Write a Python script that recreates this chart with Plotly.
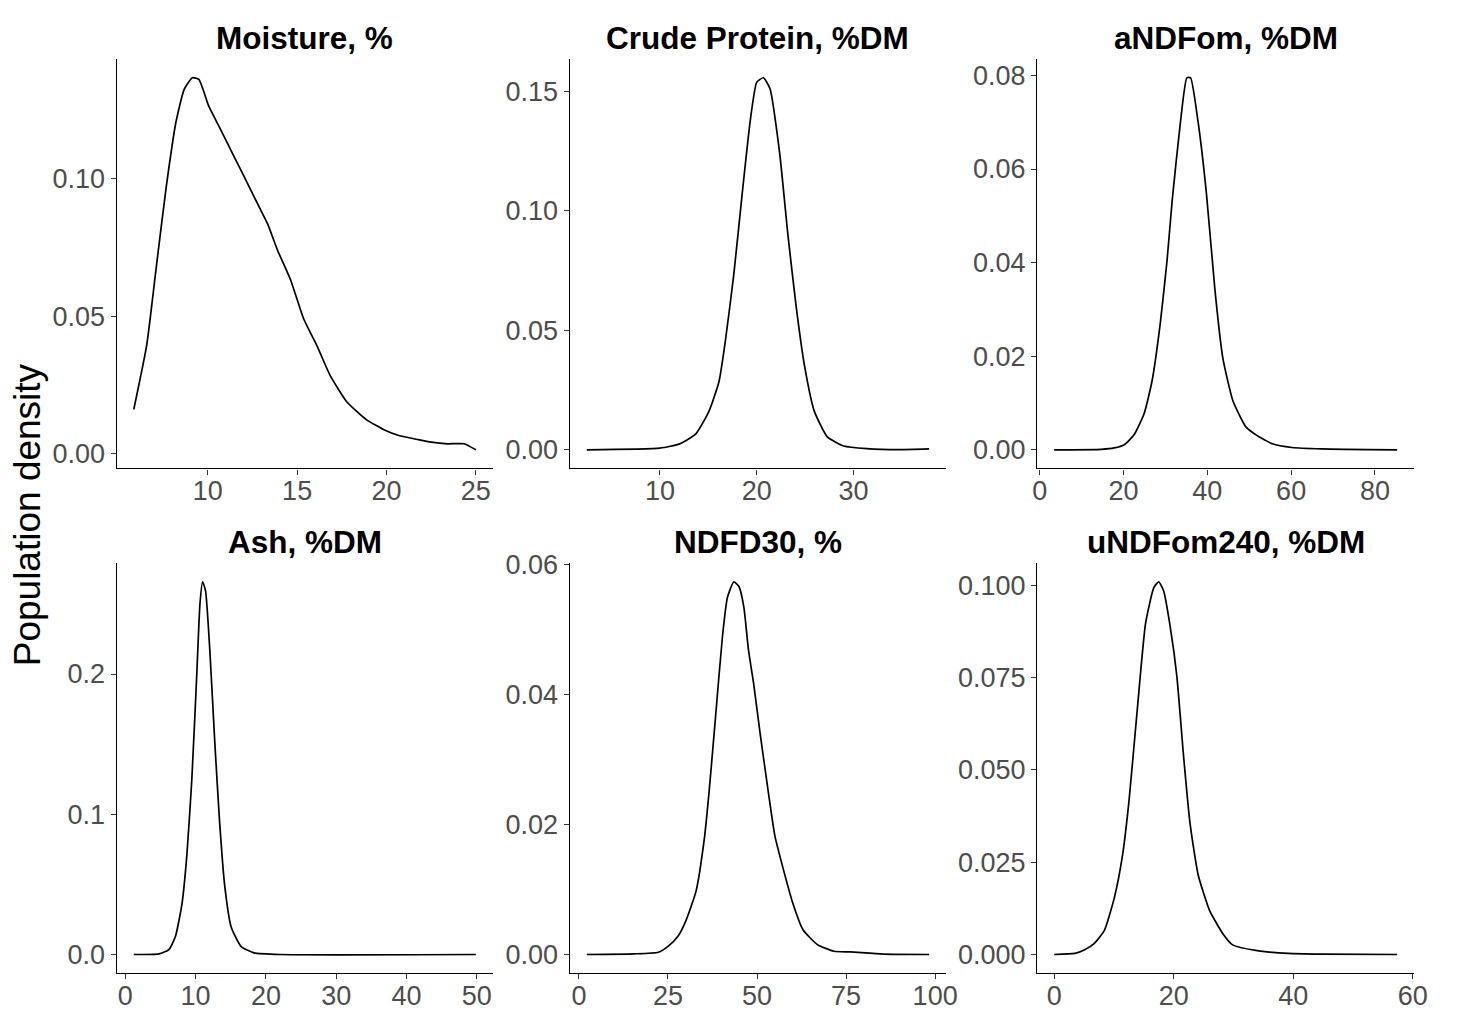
import plotly.graph_objects as go

# ---------------- data ----------------
titles = ["Moisture, %", "Crude Protein, %DM", "aNDFom, %DM",
          "Ash, %DM", "NDFD30, %", "uNDFom240, %DM"]

moisture_x = [5.86, 6.58, 7.12, 7.67, 8.22, 8.68, 9.14, 9.5, 10.05, 10.6, 11.52, 12.25, 12.89,
              13.35, 13.9, 14.63, 15.37, 16.1, 16.83, 17.75, 18.85, 19.95, 20.68, 21.78,
              22.5, 23.42, 24.34, 25.0]
moisture_y = [0.0161, 0.0394, 0.068, 0.0968, 0.1207, 0.1326, 0.1368, 0.1362, 0.1266, 0.1195,
              0.1075, 0.098, 0.0896, 0.0836, 0.0741, 0.0633, 0.049, 0.0394, 0.0287, 0.0191,
              0.0125, 0.0084, 0.0066, 0.0051, 0.0042, 0.0036, 0.0036, 0.0014]

protein_x = [2.44, 10.0, 12.03, 13.73, 15.08, 16.1, 16.78, 17.63, 18.47, 19.32, 20.0, 20.68,
             21.36, 22.37, 23.22, 24.07, 24.92, 25.93, 27.29, 28.98, 31.36, 34.75, 37.8]
protein_y = [0.0, 0.0007, 0.0025, 0.0068, 0.0163, 0.0286, 0.0463, 0.0735, 0.1062, 0.1375,
             0.1538, 0.1556, 0.1511, 0.1239, 0.0898, 0.0599, 0.0354, 0.0163, 0.0054, 0.0016,
             0.0005, 0.0001, 0.0004]

andfom_x = [3.45, 14.7, 17.8, 20.2, 22.5, 24.9, 26.8, 28.8, 30.4, 31.6, 33.5, 35.1, 36.0,
            37.8, 39.8, 41.8, 43.7, 46.1, 49.2, 51.6, 55.5, 60.2, 67.3, 85.3]
andfom_y = [0.0, 0.0001, 0.0004, 0.0011, 0.0032, 0.0077, 0.0147, 0.0273, 0.0406, 0.0532,
            0.0694, 0.0795, 0.0795, 0.07, 0.0546, 0.0343, 0.0196, 0.0105, 0.0049, 0.0032,
            0.0013, 0.0005, 0.0002, 0.0]

ash_x = [1.21, 4.8, 6.2, 7.13, 8.06, 8.76, 9.46, 10.16, 10.62, 11.0, 11.42, 12.02, 12.72,
         13.42, 14.12, 15.05, 16.45, 18.3, 22.0, 49.86]
ash_y = [0.0, 0.0005, 0.0035, 0.0128, 0.036, 0.0709, 0.1244, 0.1988, 0.25, 0.2658, 0.2593,
         0.2174, 0.1523, 0.0942, 0.05, 0.0198, 0.0058, 0.0012, 0.0, 0.0]

ndfd_x = [2.21, 15.4, 22.3, 25.1, 27.8, 30.1, 32.9, 35.2, 36.6, 38.4, 40.3, 41.7, 43.5, 44.9,
          46.3, 47.6, 49.0, 50.9, 53.2, 55.0, 57.3, 60.1, 62.9, 67.0, 71.6, 76.2, 85.4, 98.3]
ndfd_y = [0.0, 0.0001, 0.00035, 0.0013, 0.0028, 0.0053, 0.0098, 0.0178, 0.0254, 0.0369,
          0.049, 0.055, 0.0574, 0.0567, 0.0535, 0.0469, 0.0419, 0.0339, 0.0249, 0.0183,
          0.0133, 0.0078, 0.0038, 0.0015, 0.0005, 0.0004, 0.00005, 0.0]

undf_x = [0.0, 3.47, 5.1, 6.77, 8.42, 10.07, 11.44, 12.54, 13.92, 15.29, 16.67, 17.49, 18.32,
          19.42, 20.52, 21.62, 22.72, 24.09, 26.02, 28.2, 29.87, 33.7, 39.2, 44.7, 57.4]
undf_y = [0.0, 0.0003, 0.0013, 0.0031, 0.0066, 0.0154, 0.0269, 0.0419, 0.0666, 0.0896,
          0.0993, 0.1009, 0.0984, 0.0887, 0.0755, 0.0543, 0.0357, 0.0216, 0.0119, 0.0057,
          0.0026, 0.0011, 0.0003, 0.0001, 0.0]

x_ticks = [[10, 15, 20, 25], [10, 20, 30], [0, 20, 40, 60, 80],
           [0, 10, 20, 30, 40, 50], [0, 25, 50, 75, 100], [0, 20, 40, 60]]
y_ticks = [[0.0, 0.05, 0.10], [0.0, 0.05, 0.10, 0.15], [0.0, 0.02, 0.04, 0.06, 0.08],
           [0.0, 0.1, 0.2], [0.0, 0.02, 0.04, 0.06], [0.0, 0.025, 0.05, 0.075, 0.1]]
y_formats = [".2f", ".2f", ".2f", ".1f", ".2f", ".3f"]
y_label = "Population density"

series = [(moisture_x, moisture_y), (protein_x, protein_y), (andfom_x, andfom_y),
          (ash_x, ash_y), (ndfd_x, ndfd_y), (undf_x, undf_y)]

# ---------------- layout ----------------
# the page body keeps the browser's default 8px margin, so the figure is 16px smaller
OFF = 8
W, H = 1458 - 2 * OFF, 1019 - 2 * OFF
col_px = [(113, 494), (571.7, 953), (1045, 1427)]
row_px = [(47, 465), (561.7, 980.5)]


def px_x(p):
    return (p - OFF) / W


def px_y(p):
    return 1 - (p - OFF) / H


FONT = "Liberation Sans, Arial, sans-serif"
fig = go.Figure()
layout = dict(
    width=W, height=H, margin=dict(l=0, r=0, t=0, b=0), autosize=False,
    paper_bgcolor="white", plot_bgcolor="white", showlegend=False,
    font=dict(family=FONT, color="#4D4D4D"),
)
annotations = []

for i, (xs, ys) in enumerate(series):
    r, c = divmod(i, 3)
    n = "" if i == 0 else str(i + 1)
    xa, ya = "x" + n, "y" + n
    fig.add_trace(go.Scatter(x=xs, y=ys, mode="lines", xaxis=xa, yaxis=ya,
                             line=dict(color="black", width=1.7, shape="spline", smoothing=0.5),
                             hoverinfo="x+y"))
    x0, x1 = col_px[c]
    y0, y1 = row_px[r]
    xmin, xmax = min(xs), max(xs)
    ymin, ymax = min(ys), max(ys)
    dx = (xmax - xmin) * 0.05
    dy = (ymax - ymin) * 0.05
    axis_common = dict(showgrid=False, zeroline=False, showline=True, linecolor="black",
                       linewidth=1.3, ticks="outside", ticklen=5, tickwidth=1.2,
                       tickcolor="#333333", tickfont=dict(size=27, color="#4D4D4D", family=FONT),
                       mirror=False)
    layout["xaxis" + n] = dict(axis_common, domain=[px_x(x0), px_x(x1)],
                               range=[xmin - dx, xmax + dx], tickmode="array",
                               tickvals=x_ticks[i], anchor=ya, ticklabelstandoff=-7)
    layout["yaxis" + n] = dict(axis_common, domain=[px_y(y1), px_y(y0)],
                               range=[ymin - dy, ymax + dy], tickmode="array",
                               tickvals=y_ticks[i], tickformat=y_formats[i], anchor=xa)
    annotations.append(dict(text="<b>" + titles[i] + "</b>", xref="paper", yref="paper",
                            x=px_x((x0 + x1) / 2), y=px_y(y0), xanchor="center",
                            yanchor="bottom", yshift=1, showarrow=False,
                            font=dict(size=31.5, color="black", family=FONT)))

annotations.append(dict(text=y_label, xref="paper", yref="paper", x=px_x(23), y=px_y(512),
                        xanchor="center", yanchor="middle", textangle=-90, showarrow=False,
                        font=dict(size=37, color="black", family=FONT)))
layout["annotations"] = annotations
fig.update_layout(**layout)

fig.write_html("out.html", config={"displayModeBar": False})
